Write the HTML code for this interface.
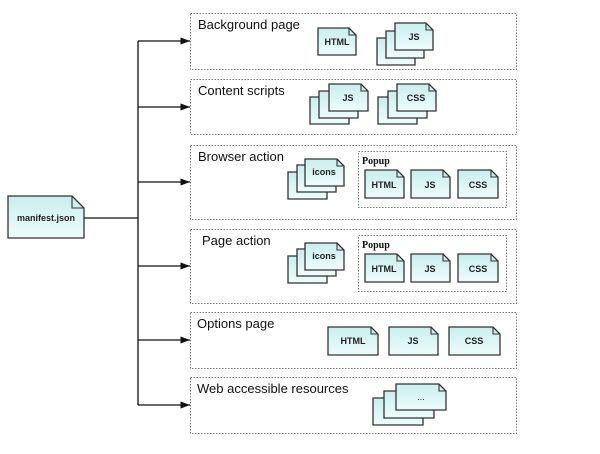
<!DOCTYPE html>
<html><head><meta charset="utf-8"><style>
html,body{margin:0;padding:0;background:#fff;}
svg{display:block;}
.d{fill:url(#g);stroke:#333;stroke-width:1.3;}
.f{fill:none;stroke:#333;stroke-width:1.1;}
.t{font-family:"Liberation Sans",sans-serif;font-size:9px;font-weight:bold;fill:#222;text-anchor:middle;}
.l{font-family:"Liberation Sans",sans-serif;font-size:13px;fill:#111;}
.p{font-family:"Liberation Serif",serif;font-size:10px;font-weight:bold;fill:#111;}
.b{fill:none;stroke:#777;stroke-width:1;stroke-dasharray:1.5 1.5;}
</style></head><body>
<svg width="600" height="454" viewBox="0 0 600 454">
<defs>
<linearGradient id="g" x1="0" y1="0" x2="0" y2="1"><stop offset="0" stop-color="#c9eeee"/><stop offset="1" stop-color="#eefcfc"/></linearGradient>
<marker id="a" markerWidth="8" markerHeight="6" refX="8" refY="3" orient="auto"><path d="M0 0L8 3L0 6Z" fill="#111"/></marker>
</defs>
<!-- connectors -->
<line x1="138" y1="41" x2="138" y2="405" stroke="#111" stroke-width="1.3"/>
<line x1="84" y1="218" x2="138" y2="218" stroke="#111" stroke-width="1.3"/>
<g stroke="#111" stroke-width="1.2" marker-end="url(#a)">
<line x1="138" y1="41" x2="190" y2="41"/>
<line x1="138" y1="107" x2="190" y2="107"/>
<line x1="138" y1="182" x2="190" y2="182"/>
<line x1="138" y1="266" x2="190" y2="266"/>
<line x1="138" y1="340" x2="190" y2="340"/>
<line x1="138" y1="405" x2="190" y2="405"/>
</g>
<!-- boxes -->
<rect class="b" x="190.5" y="13.5" width="326" height="56"/>
<rect class="b" x="190.5" y="79.5" width="326" height="55"/>
<rect class="b" x="190.5" y="145.5" width="326" height="74"/>
<rect class="b" x="190.5" y="229.5" width="326" height="74"/>
<rect class="b" x="190.5" y="312.5" width="326" height="56"/>
<rect class="b" x="190.5" y="377.5" width="326" height="56"/>
<rect class="b" x="358.5" y="151.5" width="148" height="56"/>
<rect class="b" x="358.5" y="235.5" width="148" height="56"/>
<text class="l" x="198" y="29">Background page</text>
<text class="l" x="198" y="95">Content scripts</text>
<text class="l" x="198" y="161">Browser action</text>
<text class="l" x="202" y="245">Page action</text>
<text class="l" x="197" y="328">Options page</text>
<text class="l" x="197" y="393">Web accessible resources</text>
<text class="p" x="362" y="164">Popup</text>
<text class="p" x="362" y="248">Popup</text>
<!-- manifest -->
<path class="d" d="M8 196H72L84 208V238H8Z"/><path class="f" d="M72 196V208H84"/>
<text class="t" x="46" y="221">manifest.json</text>
<!-- B1 -->
<path class="d" d="M318 28H349L356 35V55H318Z"/><path class="f" d="M349 28V35H356"/><text class="t" x="337" y="45">HTML</text>
<path class="d" d="M377 38H408L415 45V65H377Z"/>
<path class="d" d="M386 31H417L424 38V58H386Z"/>
<path class="d" d="M395 23H426L433 30V50H395Z"/><path class="f" d="M426 23V30H433"/><text class="t" x="414" y="40">JS</text>
<!-- B2 -->
<path class="d" d="M310 97H342L349 104V124H310Z"/>
<path class="d" d="M319 91H351L358 98V118H319Z"/>
<path class="d" d="M329 84H361L368 91V111H329Z"/><path class="f" d="M361 84V91H368"/><text class="t" x="348" y="101">JS</text>
<path class="d" d="M378 97H410L417 104V124H378Z"/>
<path class="d" d="M388 91H420L427 98V118H388Z"/>
<path class="d" d="M397 84H429L436 91V111H397Z"/><path class="f" d="M429 84V91H436"/><text class="t" x="416" y="101">CSS</text>
<!-- B3 -->
<path class="d" d="M288 172H320L327 179V199H288Z"/>
<path class="d" d="M297 165H329L336 172V192H297Z"/>
<path class="d" d="M305 159H337L344 166V186H305Z"/><path class="f" d="M337 159V166H344"/><text class="t" x="324" y="175">icons</text>
<path class="d" d="M365 170H397L404 177V198H365Z"/><path class="f" d="M397 170V177H404"/><text class="t" x="384" y="188">HTML</text>
<path class="d" d="M411 170H443L450 177V198H411Z"/><path class="f" d="M443 170V177H450"/><text class="t" x="430" y="188">JS</text>
<path class="d" d="M458 170H491L498 177V198H458Z"/><path class="f" d="M491 170V177H498"/><text class="t" x="478" y="188">CSS</text>
<!-- B4 -->
<path class="d" d="M288 256H320L327 263V283H288Z"/>
<path class="d" d="M297 249H329L336 256V276H297Z"/>
<path class="d" d="M305 243H337L344 250V270H305Z"/><path class="f" d="M337 243V250H344"/><text class="t" x="324" y="259">icons</text>
<path class="d" d="M365 254H397L404 261V282H365Z"/><path class="f" d="M397 254V261H404"/><text class="t" x="384" y="272">HTML</text>
<path class="d" d="M411 254H443L450 261V282H411Z"/><path class="f" d="M443 254V261H450"/><text class="t" x="430" y="272">JS</text>
<path class="d" d="M458 254H491L498 261V282H458Z"/><path class="f" d="M491 254V261H498"/><text class="t" x="478" y="272">CSS</text>
<!-- B5 -->
<path class="d" d="M328 327H371L378 334V355H328Z"/><path class="f" d="M371 327V334H378"/><text class="t" x="353" y="344">HTML</text>
<path class="d" d="M389 327H431L438 334V355H389Z"/><path class="f" d="M431 327V334H438"/><text class="t" x="413" y="344">JS</text>
<path class="d" d="M449 327H493L500 334V355H449Z"/><path class="f" d="M493 327V334H500"/><text class="t" x="474" y="344">CSS</text>
<!-- B6 -->
<path class="d" d="M373 398H416L423 405V425H373Z"/>
<path class="d" d="M384 391H427L434 398V418H384Z"/>
<path class="d" d="M396 384H439L446 391V410H396Z"/><path class="f" d="M439 384V391H446"/><text class="t" x="421" y="400" style="font-weight:normal">...</text>
</svg>
</body></html>
